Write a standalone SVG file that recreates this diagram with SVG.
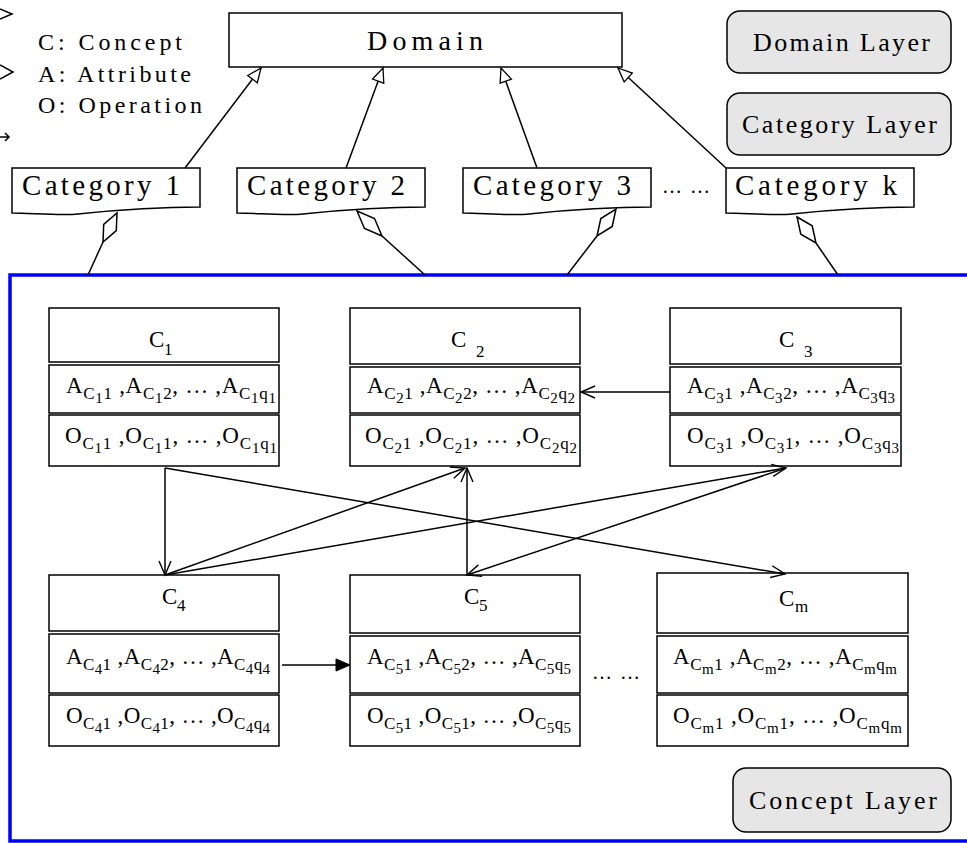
<svg xmlns="http://www.w3.org/2000/svg" width="967" height="843" viewBox="0 0 967 843">
<style>
  .t{font-family:"Liberation Serif","Times New Roman",serif;fill:#000}
  .leg{font-size:24px}
  .lay{font-size:26px}
  .hd{font-size:23px}
  .row{font-size:23px}
  .s{font-size:17px}
  .ss{font-size:15px}
  .box{fill:#fff;stroke:#000;stroke-width:1.5}
  .layer{fill:#e6e6e6;stroke:#000;stroke-width:1.5}
  .ln{fill:none;stroke:#000;stroke-width:1.5}
</style>
<defs>
  <marker id="tri" markerUnits="userSpaceOnUse" markerWidth="20" markerHeight="16" refX="15" refY="7" orient="auto">
    <path d="M1,1 L15,7 L1,13 Z" fill="#fff" stroke="#000" stroke-width="1.3"/>
  </marker>
  <marker id="open" markerUnits="userSpaceOnUse" markerWidth="20" markerHeight="16" refX="15" refY="7" orient="auto">
    <path d="M1,1 L15,7 L1,13" fill="none" stroke="#000" stroke-width="1.4"/>
  </marker>
  <marker id="fill" markerUnits="userSpaceOnUse" markerWidth="20" markerHeight="16" refX="15" refY="7" orient="auto">
    <path d="M1,1 L15,7 L1,13 Z" fill="#000" stroke="#000" stroke-width="1"/>
  </marker>
</defs>
<rect width="967" height="843" fill="#fff"/>

<g id="legend">
  <polyline class="ln" points="0,9 12,14 0,19"/>
  <polyline class="ln" points="0,65 13,72 0,79"/>
  <path class="ln" d="M0,137 H9 M5,133 L9,137 L5,141" stroke-width="1"/>
  <text class="t leg" x="38" y="50" textLength="144" lengthAdjust="spacing">C: Concept</text>
  <text class="t leg" x="38" y="82" textLength="153" lengthAdjust="spacing">A: Attribute</text>
  <text class="t leg" x="38" y="113" textLength="164" lengthAdjust="spacing">O: Operation</text>
</g>

<g id="domain">
  <rect class="box" x="229" y="13" width="393" height="54"/>
  <text class="t" x="367" y="50" font-size="28" textLength="116" lengthAdjust="spacing">Domain</text>
</g>

<g id="domain-layer">
  <rect class="layer" x="727" y="11" width="224" height="62" rx="13"/>
  <text class="t lay" x="753" y="51" textLength="177" lengthAdjust="spacing">Domain Layer</text>
</g>
<g id="category-layer">
  <rect class="layer" x="727" y="93" width="224" height="62" rx="13"/>
  <text class="t lay" x="742" y="133" textLength="195" lengthAdjust="spacing">Category Layer</text>
</g>

<g id="cat1">
  <path class="box" d="M12,168 H200 V207 C144,207 107,211 78,214 C62,216 30,213 12,213 Z"/>
  <text class="t" x="22" y="195" font-size="29" textLength="158" lengthAdjust="spacing">Category 1</text>
</g>
<g id="cat2">
  <path class="box" d="M237,168 H425 V207 C369,207 332,211 303,214 C287,216 255,213 237,213 Z"/>
  <text class="t" x="247" y="195" font-size="29" textLength="158" lengthAdjust="spacing">Category 2</text>
</g>
<g id="cat3">
  <path class="box" d="M463,168 H651 V207 C595,207 558,211 529,214 C513,216 481,213 463,213 Z"/>
  <text class="t" x="473" y="195" font-size="29" textLength="158" lengthAdjust="spacing">Category 3</text>
</g>
<text class="t" x="662" y="193" font-size="20" textLength="48" lengthAdjust="spacing">……</text>
<g id="catk">
  <path class="box" d="M726,168 H914 V207 C858,207 821,211 792,214 C776,216 744,213 726,213 Z"/>
  <text class="t" x="735" y="195" font-size="29" textLength="162" lengthAdjust="spacing">Category k</text>
</g>

<g id="concept-layer-frame">
  <rect x="10" y="275" width="975" height="566" fill="none" stroke="#0000ff" stroke-width="3.5"/>
</g>

<g id="concept-layer">
  <rect class="layer" x="733" y="768" width="218" height="64" rx="13"/>
  <text class="t lay" x="749" y="809" textLength="188" lengthAdjust="spacing">Concept Layer</text>
</g>

<g id="c1">
  <rect class="box" x="49" y="308" width="230" height="54"/>
  <rect class="box" x="49" y="365" width="230" height="48"/>
  <rect class="box" x="49" y="415" width="230" height="51"/>
  <text class="t hd" x="149" y="347">C</text><text class="t s" x="164" y="355">1</text>
  <text class="t row" x="66" y="393" textLength="210" lengthAdjust="spacing">A<tspan class="s" dy="6">C</tspan><tspan class="ss" dy="4">1</tspan><tspan class="s" dy="-4">1</tspan><tspan dy="-6"> ,A</tspan><tspan class="s" dy="6">C</tspan><tspan class="ss" dy="4">1</tspan><tspan class="s" dy="-4">2</tspan><tspan dy="-6">, … ,A</tspan><tspan class="s" dy="6">C</tspan><tspan class="ss" dy="4">1</tspan><tspan class="s" dy="-4">q</tspan><tspan class="ss" dy="4">1</tspan></text>
  <text class="t row" x="65" y="443" textLength="212" lengthAdjust="spacing">O<tspan class="s" dy="6">C</tspan><tspan class="ss" dy="4">1</tspan><tspan class="s" dy="-4">1</tspan><tspan dy="-6"> ,O</tspan><tspan class="s" dy="6">C</tspan><tspan class="ss" dy="4">1</tspan><tspan class="s" dy="-4">1</tspan><tspan dy="-6">, … ,O</tspan><tspan class="s" dy="6">C</tspan><tspan class="ss" dy="4">1</tspan><tspan class="s" dy="-4">q</tspan><tspan class="ss" dy="4">1</tspan></text>
</g>

<g id="c2">
  <rect class="box" x="350" y="308" width="230" height="56"/>
  <rect class="box" x="350" y="367" width="230" height="46"/>
  <rect class="box" x="350" y="415" width="230" height="51"/>
  <text class="t hd" x="451" y="347">C</text><text class="t s" x="476" y="357">2</text>
  <text class="t row" x="367" y="393" textLength="208" lengthAdjust="spacing">A<tspan class="s" dy="6">C</tspan><tspan class="ss" dy="4">2</tspan><tspan class="s" dy="-4">1</tspan><tspan dy="-6"> ,A</tspan><tspan class="s" dy="6">C</tspan><tspan class="ss" dy="4">2</tspan><tspan class="s" dy="-4">2</tspan><tspan dy="-6">, … ,A</tspan><tspan class="s" dy="6">C</tspan><tspan class="ss" dy="4">2</tspan><tspan class="s" dy="-4">q</tspan><tspan class="ss" dy="4">2</tspan></text>
  <text class="t row" x="365" y="443" textLength="212" lengthAdjust="spacing">O<tspan class="s" dy="6">C</tspan><tspan class="ss" dy="4">2</tspan><tspan class="s" dy="-4">1</tspan><tspan dy="-6"> ,O</tspan><tspan class="s" dy="6">C</tspan><tspan class="ss" dy="4">2</tspan><tspan class="s" dy="-4">1</tspan><tspan dy="-6">, … ,O</tspan><tspan class="s" dy="6">C</tspan><tspan class="ss" dy="4">2</tspan><tspan class="s" dy="-4">q</tspan><tspan class="ss" dy="4">2</tspan></text>
</g>

<g id="c3">
  <rect class="box" x="670" y="308" width="231" height="56"/>
  <rect class="box" x="670" y="367" width="231" height="46"/>
  <rect class="box" x="670" y="415" width="231" height="51"/>
  <text class="t hd" x="779" y="347">C</text><text class="t s" x="804" y="357">3</text>
  <text class="t row" x="687" y="393" textLength="208" lengthAdjust="spacing">A<tspan class="s" dy="6">C</tspan><tspan class="ss" dy="4">3</tspan><tspan class="s" dy="-4">1</tspan><tspan dy="-6"> ,A</tspan><tspan class="s" dy="6">C</tspan><tspan class="ss" dy="4">3</tspan><tspan class="s" dy="-4">2</tspan><tspan dy="-6">, … ,A</tspan><tspan class="s" dy="6">C</tspan><tspan class="ss" dy="4">3</tspan><tspan class="s" dy="-4">q</tspan><tspan class="ss" dy="4">3</tspan></text>
  <text class="t row" x="687" y="443" textLength="212" lengthAdjust="spacing">O<tspan class="s" dy="6">C</tspan><tspan class="ss" dy="4">3</tspan><tspan class="s" dy="-4">1</tspan><tspan dy="-6"> ,O</tspan><tspan class="s" dy="6">C</tspan><tspan class="ss" dy="4">3</tspan><tspan class="s" dy="-4">1</tspan><tspan dy="-6">, … ,O</tspan><tspan class="s" dy="6">C</tspan><tspan class="ss" dy="4">3</tspan><tspan class="s" dy="-4">q</tspan><tspan class="ss" dy="4">3</tspan></text>
</g>

<g id="c4">
  <rect class="box" x="49" y="575" width="230" height="56"/>
  <rect class="box" x="49" y="634" width="230" height="59"/>
  <rect class="box" x="49" y="695" width="230" height="51"/>
  <text class="t hd" x="162" y="604">C</text><text class="t s" x="177" y="611">4</text>
  <text class="t row" x="66" y="664" textLength="204" lengthAdjust="spacing">A<tspan class="s" dy="6">C</tspan><tspan class="ss" dy="4">4</tspan><tspan class="s" dy="-4">1</tspan><tspan dy="-6"> ,A</tspan><tspan class="s" dy="6">C</tspan><tspan class="ss" dy="4">4</tspan><tspan class="s" dy="-4">2</tspan><tspan dy="-6">, … ,A</tspan><tspan class="s" dy="6">C</tspan><tspan class="ss" dy="4">4</tspan><tspan class="s" dy="-4">q</tspan><tspan class="ss" dy="4">4</tspan></text>
  <text class="t row" x="66" y="723" textLength="204" lengthAdjust="spacing">O<tspan class="s" dy="6">C</tspan><tspan class="ss" dy="4">4</tspan><tspan class="s" dy="-4">1</tspan><tspan dy="-6"> ,O</tspan><tspan class="s" dy="6">C</tspan><tspan class="ss" dy="4">4</tspan><tspan class="s" dy="-4">1</tspan><tspan dy="-6">, … ,O</tspan><tspan class="s" dy="6">C</tspan><tspan class="ss" dy="4">4</tspan><tspan class="s" dy="-4">q</tspan><tspan class="ss" dy="4">4</tspan></text>
</g>

<g id="c5">
  <rect class="box" x="350" y="575" width="230" height="58"/>
  <rect class="box" x="350" y="636" width="230" height="57"/>
  <rect class="box" x="350" y="695" width="230" height="51"/>
  <text class="t hd" x="464" y="604">C</text><text class="t s" x="479" y="611">5</text>
  <text class="t row" x="367" y="664" textLength="204" lengthAdjust="spacing">A<tspan class="s" dy="6">C</tspan><tspan class="ss" dy="4">5</tspan><tspan class="s" dy="-4">1</tspan><tspan dy="-6"> ,A</tspan><tspan class="s" dy="6">C</tspan><tspan class="ss" dy="4">5</tspan><tspan class="s" dy="-4">2</tspan><tspan dy="-6">, … ,A</tspan><tspan class="s" dy="6">C</tspan><tspan class="ss" dy="4">5</tspan><tspan class="s" dy="-4">q</tspan><tspan class="ss" dy="4">5</tspan></text>
  <text class="t row" x="367" y="723" textLength="204" lengthAdjust="spacing">O<tspan class="s" dy="6">C</tspan><tspan class="ss" dy="4">5</tspan><tspan class="s" dy="-4">1</tspan><tspan dy="-6"> ,O</tspan><tspan class="s" dy="6">C</tspan><tspan class="ss" dy="4">5</tspan><tspan class="s" dy="-4">1</tspan><tspan dy="-6">, … ,O</tspan><tspan class="s" dy="6">C</tspan><tspan class="ss" dy="4">5</tspan><tspan class="s" dy="-4">q</tspan><tspan class="ss" dy="4">5</tspan></text>
</g>

<text class="t" x="592" y="679" font-size="20" textLength="48" lengthAdjust="spacing">… …</text>

<g id="cm">
  <rect class="box" x="657" y="573" width="251" height="60"/>
  <rect class="box" x="657" y="636" width="251" height="57"/>
  <rect class="box" x="657" y="695" width="251" height="51"/>
  <text class="t hd" x="779" y="606">C</text><text class="t s" x="795" y="612">m</text>
  <text class="t row" x="673" y="664" textLength="224" lengthAdjust="spacing">A<tspan class="s" dy="6">C</tspan><tspan class="ss" dy="4">m</tspan><tspan class="s" dy="-4">1</tspan><tspan dy="-6"> ,A</tspan><tspan class="s" dy="6">C</tspan><tspan class="ss" dy="4">m</tspan><tspan class="s" dy="-4">2</tspan><tspan dy="-6">, … ,A</tspan><tspan class="s" dy="6">C</tspan><tspan class="ss" dy="4">m</tspan><tspan class="s" dy="-4">q</tspan><tspan class="ss" dy="4">m</tspan></text>
  <text class="t row" x="673" y="723" textLength="229" lengthAdjust="spacing">O<tspan class="s" dy="6">C</tspan><tspan class="ss" dy="4">m</tspan><tspan class="s" dy="-4">1</tspan><tspan dy="-6"> ,O</tspan><tspan class="s" dy="6">C</tspan><tspan class="ss" dy="4">m</tspan><tspan class="s" dy="-4">1</tspan><tspan dy="-6">, … ,O</tspan><tspan class="s" dy="6">C</tspan><tspan class="ss" dy="4">m</tspan><tspan class="s" dy="-4">q</tspan><tspan class="ss" dy="4">m</tspan></text>
</g>

<g id="connectors">
  <line class="ln" x1="185" y1="168" x2="261" y2="68" marker-end="url(#tri)"/>
  <line class="ln" x1="346" y1="168" x2="383" y2="68" marker-end="url(#tri)"/>
  <line class="ln" x1="537" y1="168" x2="501" y2="68" marker-end="url(#tri)"/>
  <line class="ln" x1="726" y1="168" x2="618" y2="68" marker-end="url(#tri)"/>
  <polygon class="box" points="117,213 116.3,230.6 103,242 103.7,224.4"/>
  <polygon class="box" points="357,211 374.5,218.5 382,236 364.5,228.5"/>
  <polygon class="box" points="616,209 612.2,226.5 597,236 600.8,218.5"/>
  <polygon class="box" points="797,217 812.2,225.8 816,243 800.8,234.2"/>
  <line class="ln" x1="103" y1="242" x2="88" y2="275"/>
  <line class="ln" x1="382" y1="236" x2="425" y2="275"/>
  <line class="ln" x1="597" y1="236" x2="567" y2="275"/>
  <line class="ln" x1="816" y1="243" x2="838" y2="275"/>
  <line class="ln" x1="670" y1="392" x2="581" y2="392" marker-end="url(#open)"/>
  <line class="ln" x1="282" y1="665" x2="350" y2="665" marker-end="url(#fill)"/>
  <line class="ln" x1="165" y1="468" x2="165" y2="575" marker-end="url(#open)"/>
  <line class="ln" x1="165" y1="468" x2="785" y2="574" marker-end="url(#open)"/>
  <line class="ln" x1="165" y1="575" x2="465" y2="468" marker-end="url(#open)"/>
  <line class="ln" x1="165" y1="575" x2="786" y2="468" marker-end="url(#open)"/>
  <line class="ln" x1="467" y1="575" x2="467" y2="468" marker-end="url(#open)"/>
  <line class="ln" x1="786" y1="468" x2="467" y2="575" marker-end="url(#open)"/>
</g>
</svg>
